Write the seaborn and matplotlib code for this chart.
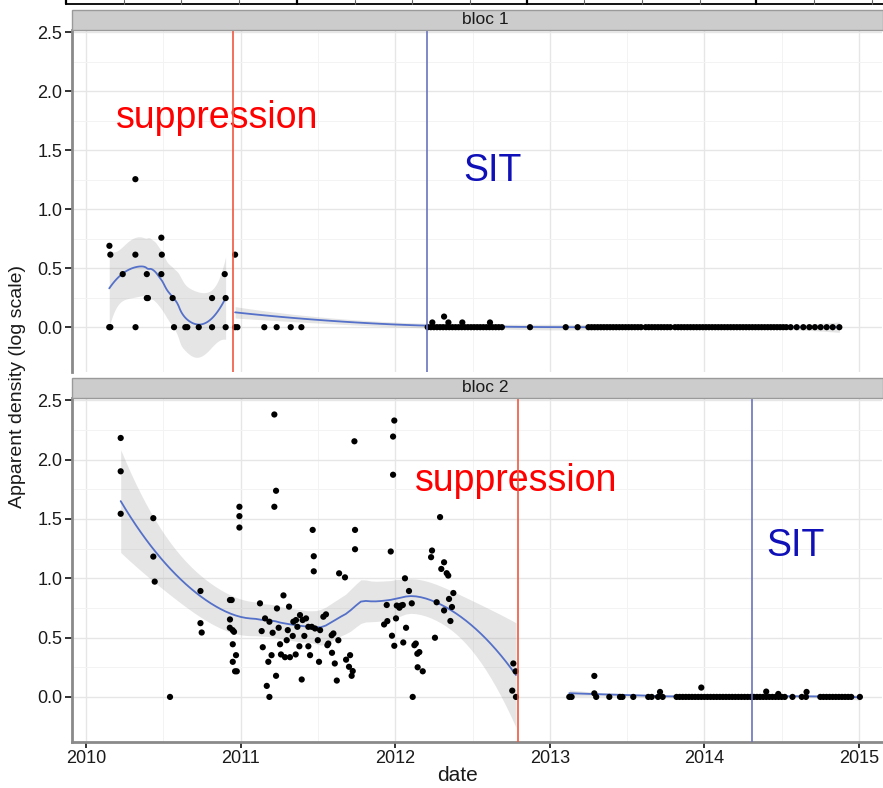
import numpy as np
import pandas as pd
import matplotlib
matplotlib.use("Agg")
import matplotlib.pyplot as plt
import seaborn as sns
from matplotlib.patches import Rectangle
from matplotlib.lines import Line2D

# ---------------- data (decimal years, log-scale density) ----------------
b1_nz_date = [2010.151, 2010.157, 2010.237, 2010.319, 2010.319, 2010.393, 2010.393,
              2010.400, 2010.487, 2010.490, 2010.487, 2010.560, 2010.815, 2010.897,
              2010.903, 2010.964, 2012.240, 2012.316, 2012.344, 2012.434, 2012.613]
b1_nz_value = [0.69, 0.615, 0.45, 1.255, 0.615, 0.45, 0.247,
               0.247, 0.759, 0.615, 0.45, 0.247, 0.247, 0.45,
               0.247, 0.615, 0.04, 0.09, 0.04, 0.04, 0.04]
b1_zero_date = [2010.150, 2010.157, 2010.320, 2010.569, 2010.642, 2010.655, 2010.729,
                2010.815, 2010.903, 2010.964, 2010.979, 2011.153, 2011.233, 2011.324,
                2011.393,
                2012.21, 2012.23, 2012.25, 2012.27, 2012.29, 2012.31, 2012.33, 2012.35,
                2012.37, 2012.39, 2012.41, 2012.43, 2012.45, 2012.47, 2012.49, 2012.51,
                2012.53, 2012.55, 2012.57, 2012.59, 2012.61, 2012.63, 2012.65, 2012.67,
                2012.69, 2012.872, 2013.103, 2013.180,
                2013.25, 2013.27, 2013.29, 2013.31, 2013.33, 2013.35, 2013.37, 2013.39,
                2013.41, 2013.43, 2013.45, 2013.47, 2013.49, 2013.51, 2013.53, 2013.55,
                2013.57, 2013.59,
                2013.62, 2013.64, 2013.66, 2013.68, 2013.70, 2013.72, 2013.74, 2013.76,
                2013.78,
                2013.81, 2013.83, 2013.85, 2013.87, 2013.89, 2013.91, 2013.93, 2013.95,
                2013.97, 2013.99, 2014.01, 2014.03, 2014.05, 2014.07, 2014.09, 2014.11,
                2014.13,
                2014.15, 2014.17, 2014.19, 2014.21, 2014.23, 2014.25, 2014.27, 2014.29,
                2014.31, 2014.33, 2014.35, 2014.37, 2014.39, 2014.41, 2014.43, 2014.45,
                2014.47, 2014.49, 2014.51, 2014.53,
                2014.558, 2014.597, 2014.640, 2014.679, 2014.715, 2014.752, 2014.791,
                2014.830, 2014.873]

b2_nz_date = [2010.224, 2010.224, 2010.224, 2010.435, 2010.435, 2010.444, 2010.740,
              2010.740, 2010.748,
              2011.218, 2011.736, 2011.229, 2011.218, 2010.992, 2010.992, 2010.992,
              2011.466, 2011.740, 2011.740, 2011.473, 2011.473, 2011.637, 2011.675,
              2011.277, 2010.931, 2010.942, 2011.125, 2011.313, 2011.235, 2010.931,
              2011.158, 2011.186, 2010.930, 2010.948, 2010.957, 2011.136, 2011.207,
              2011.246, 2011.305, 2011.341, 2011.358, 2011.384, 2011.401, 2011.423,
              2011.367, 2011.438, 2011.460, 2011.481, 2011.514, 2011.535, 2011.552,
              2011.589, 2011.600, 2011.337, 2011.412, 2011.499, 2011.632, 2010.949,
              2011.143, 2011.255, 2011.298, 2011.380, 2011.438, 2011.561, 2011.567,
              2010.970, 2011.200, 2011.261, 2011.287, 2011.319, 2011.356, 2011.449,
              2011.591, 2011.682, 2011.708, 2010.949, 2011.179, 2011.507, 2011.609,
              2011.701, 2011.725, 2011.718, 2010.964, 2010.975, 2011.229, 2011.169,
              2011.395, 2011.622,
              2011.994, 2011.986, 2011.986, 2012.290, 2011.971, 2012.238, 2012.232,
              2012.316, 2012.298, 2012.333, 2012.343, 2012.063, 2012.089, 2012.376,
              2012.348, 2012.367, 2012.268, 2012.316, 2012.357, 2011.945, 2012.010,
              2012.027, 2012.038, 2012.049, 2012.107, 2012.005, 2011.928, 2011.949,
              2012.070, 2011.979, 2012.257, 2011.994, 2012.052, 2012.124, 2012.133,
              2012.143, 2012.156, 2012.145, 2012.178, 2012.764, 2012.779, 2012.757,
              2013.288, 2013.288, 2013.713, 2013.980, 2014.400, 2014.478, 2014.661]
b2_nz_value = [2.183, 1.902, 1.544, 1.507, 1.183, 0.972, 0.893,
               0.622, 0.543,
               2.381, 2.155, 1.738, 1.603, 1.603, 1.524, 1.428,
               1.408, 1.408, 1.245, 1.186, 1.059, 1.042, 1.008,
               0.856, 0.817, 0.817, 0.789, 0.761, 0.746, 0.653,
               0.662, 0.634, 0.583, 0.563, 0.549, 0.555, 0.541,
               0.583, 0.563, 0.634, 0.648, 0.690, 0.648, 0.662,
               0.591, 0.591, 0.591, 0.577, 0.563, 0.676, 0.696,
               0.520, 0.535, 0.514, 0.514, 0.478, 0.478, 0.444,
               0.419, 0.444, 0.478, 0.427, 0.427, 0.436, 0.450,
               0.352, 0.352, 0.358, 0.335, 0.335, 0.358, 0.352,
               0.372, 0.314, 0.352, 0.296, 0.296, 0.296, 0.282,
               0.254, 0.218, 0.178, 0.216, 0.216, 0.178, 0.093,
               0.147, 0.138,
               2.330, 2.195, 1.873, 1.516, 1.226, 1.234, 1.178,
               1.135, 1.079, 1.043, 1.023, 1.000, 0.893, 0.876,
               0.826, 0.758, 0.798, 0.729, 0.640, 0.775, 0.770,
               0.752, 0.770, 0.775, 0.789, 0.662, 0.611, 0.639,
               0.583, 0.516, 0.499, 0.431, 0.459, 0.436, 0.450,
               0.364, 0.378, 0.250, 0.216, 0.282, 0.216, 0.053,
               0.177, 0.030, 0.042, 0.079, 0.045, 0.025, 0.042]
b2_zero_date = [2010.543, 2011.186, 2012.113, 2012.781,
                2013.126, 2013.141, 2013.300, 2013.385, 2013.454, 2013.470, 2013.540,
                2013.637, 2013.659, 2013.700, 2013.730,
                2013.82, 2013.84, 2013.86, 2013.88, 2013.90, 2013.92, 2013.94, 2013.96,
                2013.98, 2014.00, 2014.02, 2014.04, 2014.06, 2014.08, 2014.10, 2014.12,
                2014.14, 2014.16, 2014.18, 2014.20, 2014.22, 2014.24, 2014.26, 2014.28,
                2014.30, 2014.32, 2014.34, 2014.36, 2014.38, 2014.40, 2014.42, 2014.44,
                2014.46, 2014.48, 2014.50, 2014.52,
                2014.570, 2014.630, 2014.657,
                2014.75, 2014.77, 2014.79, 2014.81, 2014.83, 2014.85, 2014.87, 2014.89,
                2014.91, 2014.93, 2014.95, 2015.006]

blocs = ["bloc 1", "bloc 2"]
suppression_date = [2010.949, 2012.796]
sit_date = [2012.208, 2014.306]
x_breaks = [2010, 2011, 2012, 2013, 2014, 2015]
y_breaks = [0.0, 0.5, 1.0, 1.5, 2.0, 2.5]


# ---------------- helpers ----------------
def t975(df):
    z = 1.959964
    return (z + (z**3 + z) / (4 * df) + (5 * z**5 + 16 * z**3 + 3 * z) / (96 * df**2)
            + (3 * z**7 + 19 * z**5 + 17 * z**3 - 15 * z) / (384 * df**3))


def loess_fit(x, y, grid, span=0.75):
    x = np.asarray(x, float)
    y = np.asarray(y, float)
    n = len(x)
    q = int(np.floor(n * span))

    def row(x0):
        d = np.abs(x - x0)
        h = max(np.sort(d)[q - 1], 1e-9)
        u = np.clip(d / h, 0, 1)
        w = (1 - u**3) ** 3
        X = np.column_stack([np.ones(n), x - x0, (x - x0) ** 2])
        WX = w[:, None] * X
        A = X.T @ WX
        return np.linalg.solve(A, WX.T)[0]

    L = np.array([row(v) for v in x])
    res = y - L @ y
    IL = np.eye(n) - L
    M = IL.T @ IL
    one = np.trace(M)
    two = np.trace(M @ M)
    s = np.sqrt(np.sum(res**2) / one)
    tq = t975(one**2 / two)
    G = np.array([row(v) for v in grid])
    fit = G @ y
    se = s * np.sqrt(np.sum(G**2, axis=1))
    return fit, fit - tq * se, fit + tq * se


frames = []
for name, nzd, nzv, zd in [("bloc 1", b1_nz_date, b1_nz_value, b1_zero_date),
                           ("bloc 2", b2_nz_date, b2_nz_value, b2_zero_date)]:
    d = pd.DataFrame({"date": list(nzd) + list(zd),
                      "density": list(nzv) + [0.0] * len(zd)})
    d["bloc"] = name
    frames.append(d)
df = pd.concat(frames, ignore_index=True)

# ---------------- figure ----------------
sns.set_theme(style="white")
plt.rcParams["font.family"] = ["Liberation Sans", "DejaVu Sans"]

W, H = 883, 788
fig = plt.figure(figsize=(W / 100, H / 100), dpi=100)


def fx(px):
    return px / W


def fy(py):
    return 1 - py / H


XL = (2009.909, 2015.149)
YL = (-0.38, 2.52)
panels = [(30, 372, 10), (398, 742, 378)]

axes = []
for i, (top, bot, stop) in enumerate(panels):
    ax = fig.add_axes([fx(72), fy(bot), fx(882) - fx(72), fy(top) - fy(bot)])
    axes.append(ax)
    # strip
    fig.add_artist(Rectangle((fx(72), fy(top)), fx(883) - fx(72), fy(stop) - fy(top),
                             transform=fig.transFigure, facecolor="#CCCCCC",
                             edgecolor="#9A9A9A", linewidth=1.0, zorder=5))
    fig.text(fx(485), fy((top + stop) / 2), blocs[i], ha="center", va="center",
             fontsize=12.5, color="#1A1A1A", zorder=6)

for i, ax in enumerate(axes):
    name = blocs[i]
    sub = df[df["bloc"] == name]
    ax.set_xlim(*XL)
    ax.set_ylim(*YL)
    ax.set_xticks(x_breaks)
    ax.set_xticks([b + 0.5 for b in x_breaks[:-1]], minor=True)
    ax.set_yticks(y_breaks)
    ax.set_yticks([b + 0.25 for b in y_breaks[:-1]], minor=True)
    ax.set_yticklabels([f"{v:.1f}" for v in y_breaks])
    ax.grid(True, which="major", color="#E6E6E6", linewidth=1.0)
    ax.grid(True, which="minor", color="#F3F3F3", linewidth=0.7)
    ax.set_axisbelow(True)
    for s in ["top", "right"]:
        ax.spines[s].set_visible(False)
    ax.spines["left"].set_color("#8A8A8A")
    ax.spines["left"].set_linewidth(2.0)
    if i == 0:
        ax.spines["bottom"].set_visible(False)
        ax.tick_params(axis="x", which="both", bottom=False, labelbottom=False)
    else:
        ax.spines["bottom"].set_color("#8A8A8A")
        ax.spines["bottom"].set_linewidth(2.0)
        ax.tick_params(axis="x", which="major", bottom=True, length=4, width=1.3,
                       color="#222222", labelsize=13, labelcolor="#1A1A1A", pad=2)
    ax.tick_params(axis="y", which="major", left=True, length=5, width=1.3,
                   color="#222222", labelsize=13, labelcolor="#1A1A1A", pad=2)
    ax.tick_params(which="minor", length=0)

    # smooths by period
    supp = suppression_date[i]
    for period in [sub[sub["date"] < supp], sub[sub["date"] >= supp]]:
        xs = period["date"].to_numpy()
        ys = period["density"].to_numpy()
        grid = np.linspace(xs.min(), xs.max(), 80)
        fit, lo, hi = loess_fit(xs, ys, grid)
        ax.fill_between(grid, lo, hi, color="#999999", alpha=0.25, linewidth=0, zorder=2)
        sns.lineplot(x=grid, y=fit, ax=ax, color="#5470C8", linewidth=1.3, zorder=3)

    sns.scatterplot(data=sub, x="date", y="density", ax=ax, color="black", s=20,
                    edgecolor="none", linewidth=0, zorder=4)
    ax.axvline(supp, color="#F0583F", linewidth=1.2, zorder=4)
    ax.axvline(sit_date[i], color="#6A73BE", linewidth=1.2, zorder=4)
    ax.set_xlabel("")
    ax.set_ylabel("")

axes[0].text(2010.19, 1.686, "suppression", color="#FF0000", fontsize=27, va="baseline")
axes[0].text(2012.44, 1.238, "SIT", color="#1010B8", fontsize=27, va="baseline")
axes[1].text(2012.128, 1.735, "suppression", color="#FF0000", fontsize=27, va="baseline")
axes[1].text(2014.40, 1.186, "SIT", color="#1010B8", fontsize=27, va="baseline")

fig.text(fx(457), fy(781), "date", ha="center", va="baseline", fontsize=15,
         color="#1A1A1A")
fig.text(fx(18), fy(386), "Apparent density (log scale)", ha="center", va="center",
         rotation=90, fontsize=14, color="#1A1A1A")

# table edge remnant at the very top
fig.add_artist(Line2D([fx(66), fx(883)], [fy(4), fy(4)], transform=fig.transFigure,
                      color="black", linewidth=1.3))
for xp, thick in [(66, True), (124, False), (181, False), (239, False), (297, True),
                  (355, False), (412, False), (470, False), (527, True), (584, False),
                  (642, False), (700, False), (756, True), (814, False), (872, False)]:
    fig.add_artist(Line2D([fx(xp), fx(xp)], [fy(0), fy(4)], transform=fig.transFigure,
                          color="black" if thick else "#666666",
                          linewidth=1.6 if thick else 0.8))

fig.savefig("out.png", dpi=100)
